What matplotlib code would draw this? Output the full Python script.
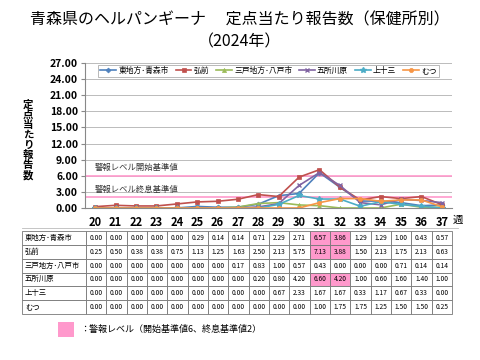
import numpy as np
import matplotlib
matplotlib.use("Agg")
from matplotlib import pyplot as plt
from matplotlib.patches import Rectangle

plt.rcParams['font.family'] = ['Noto Sans CJK JP', 'DejaVu Sans']

# data
weeks = [20, 21, 22, 23, 24, 25, 26, 27, 28, 29, 30, 31, 32, 33, 34, 35, 36, 37]
names = ['東地方･青森市', '弘前', '三戸地方･八戸市', '五所川原', '上十三', 'むつ']
aomori = [0.00, 0.00, 0.00, 0.00, 0.00, 0.29, 0.14, 0.14, 0.71, 2.29, 2.71, 6.57, 3.86, 1.29, 1.29, 1.00, 0.43, 0.57]
hirosaki = [0.25, 0.50, 0.38, 0.38, 0.75, 1.13, 1.25, 1.63, 2.50, 2.13, 5.75, 7.13, 3.88, 1.50, 2.13, 1.75, 2.13, 0.63]
hachinohe = [0.00, 0.00, 0.00, 0.00, 0.00, 0.00, 0.00, 0.17, 0.83, 1.00, 0.57, 0.43, 0.00, 0.00, 0.00, 0.71, 0.14, 0.14]
goshogawara = [0.00, 0.00, 0.00, 0.00, 0.00, 0.00, 0.00, 0.00, 0.20, 0.80, 4.20, 6.60, 4.20, 1.00, 0.60, 1.60, 1.40, 1.00]
kamitosan = [0.00, 0.00, 0.00, 0.00, 0.00, 0.00, 0.00, 0.00, 0.00, 0.67, 2.33, 1.67, 1.67, 0.33, 1.17, 0.67, 0.33, 0.00]
mutsu = [0.00, 0.00, 0.00, 0.00, 0.00, 0.00, 0.00, 0.00, 0.00, 0.00, 0.00, 1.00, 1.75, 1.75, 1.25, 1.50, 1.50, 0.25]
series = [aomori, hirosaki, hachinohe, goshogawara, kamitosan, mutsu]
# highlighted cells (row, week)
alert_cells = [(0, 31), (0, 32), (1, 31), (1, 32), (3, 31), (3, 32)]
alert_start = 6
alert_end = 2
yticks = [0, 3, 6, 9, 12, 15, 18, 21, 24, 27]
ylabel = '定点当たり報告数'

colors = ['#4F81BD', '#C0504D', '#9BBB59', '#8064A2', '#4BACC6', '#F79646']
markers = ['D', 's', '^', 'x', '*', 'o']
msizes = [2.5, 3, 3, 3.5, 4, 3]
pink = '#FF99CC'

W, H = 480, 360


def box(l, t, r, b):
    return [l / W, (H - b) / H, (r - l) / W, (b - t) / H]


fig = plt.figure(figsize=(4.8, 3.6), dpi=100)

fig.text(240 / W, 1 - 20 / H, '青森県のヘルパンギーナ　 定点当たり報告数（保健所別）',
         ha='center', va='center', fontsize=11.5)
fig.text(240 / W, 1 - 42 / H, '（2024年）', ha='center', va='center', fontsize=11.5)

ax = fig.add_axes(box(85, 63, 452, 208))
x = np.arange(len(weeks))
for s, name, c, m, ms in zip(series, names, colors, markers, msizes):
    ax.plot(x, s, color=c, marker=m, markersize=ms, linewidth=1.2, label=name,
            markeredgewidth=1 if m in 'x*' else 0.5)
ax.axhline(alert_start, color=pink, linewidth=1.2, zorder=1)
ax.axhline(alert_end, color=pink, linewidth=1.2, zorder=1)
ax.text(0, alert_start + 1.6, '警報レベル開始基準値', fontsize=6, va='center', color='#333333')
ax.text(0, alert_end + 1.5, '警報レベル終息基準値', fontsize=6, va='center', color='#333333')

ax.set_xlim(-0.5, len(weeks) - 0.5)
ax.set_ylim(0, 27)
ax.set_yticks(yticks)
ax.set_yticklabels(['%.2f' % v for v in yticks], fontsize=7.5, fontweight='bold')
ax.set_xticks(x)
ax.set_xticklabels([str(w) for w in weeks], fontsize=8, fontweight='bold')
ax.tick_params(axis='y', length=3, color='#888888', pad=2)
ax.tick_params(axis='x', length=0, pad=6)
ax.grid(axis='y', color='#BBBBBB', linewidth=0.7)
ax.set_axisbelow(True)
for sp in ['top', 'right']:
    ax.spines[sp].set_visible(False)
ax.spines['left'].set_color('#888888')
ax.spines['bottom'].set_color('#888888')

leg = ax.legend(loc='upper center', bbox_to_anchor=(0.5, 1.0), ncol=6, fontsize=5.6,
                frameon=True, fancybox=False, edgecolor='#999999', borderpad=0.3,
                handlelength=2.0, columnspacing=0.9, handletextpad=0.3, borderaxespad=0.2)
leg.get_frame().set_linewidth(0.6)

for i, ch in enumerate(ylabel):
    fig.text(28 / W, 1 - (105 + i * 10) / H, ch, ha='center', va='center',
             fontsize=7.5, fontweight='bold')
fig.text(458 / W, 1 - 220 / H, '週', ha='center', va='center', fontsize=7.5)

# data table
ta = fig.add_axes(box(0, 0, W, H))
ta.set_xlim(0, W)
ta.set_ylim(H, 0)
ta.axis('off')
t_left, t_data, t_right = 22, 86, 452
t_top, t_bot = 231, 314
cw = (t_right - t_data) / len(weeks)
rh = (t_bot - t_top) / len(names)
ta.plot([t_left, t_right + 6], [228, 228], color='#BBBBBB', linewidth=0.6)
for r, (name, s) in enumerate(zip(names, series)):
    y0 = t_top + r * rh
    ta.add_patch(Rectangle((t_left, y0), t_data - t_left, rh, facecolor='white',
                           edgecolor='#777777', linewidth=0.6))
    ta.text(t_left + 3, y0 + rh / 2, name, fontsize=5.3, va='center', ha='left')
    for i, (wk, v) in enumerate(zip(weeks, s)):
        fc = pink if (r, wk) in alert_cells else 'white'
        ta.add_patch(Rectangle((t_data + i * cw, y0), cw, rh, facecolor=fc,
                               edgecolor='#777777', linewidth=0.6))
        ta.text(t_data + (i + 0.5) * cw, y0 + rh / 2, '%.2f' % v, fontsize=4.8,
                ha='center', va='center')

ta.add_patch(Rectangle((58, 322), 16, 15, facecolor=pink, edgecolor='none'))
ta.text(80, 329.5, '：警報レベル（開始基準値6、終息基準値2）', fontsize=6.5, va='center')

fig.savefig('out.png', dpi=100)
